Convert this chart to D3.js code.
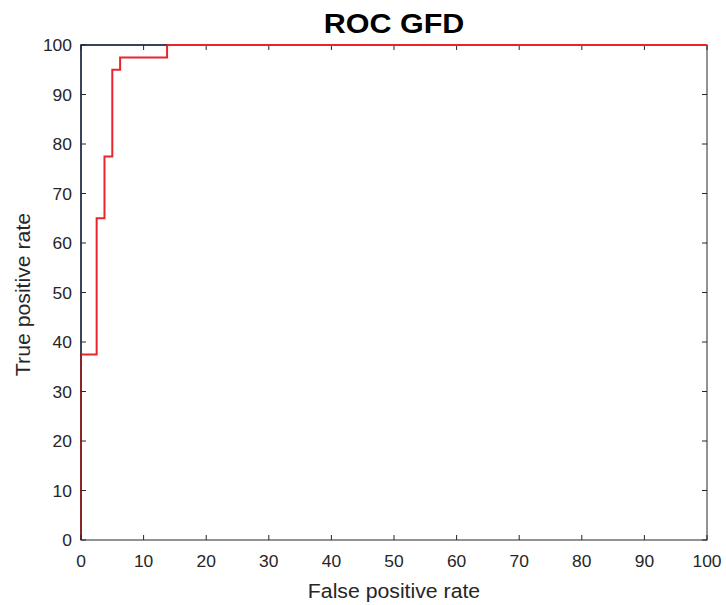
<!DOCTYPE html>
<html><head><meta charset="utf-8">
<script src="https://cdn.jsdelivr.net/npm/d3@7"></script>
<style>body{margin:0;background:#fff;font-family:"Liberation Sans",Arial,sans-serif;}</style>
</head><body><svg id="c" width="726" height="605"></svg>
<script>
const fprValues = [0, 0, 2.5, 2.5, 3.75, 3.75, 5, 5, 6.25, 6.25, 13.75, 13.75, 100];
const tprValues = [0, 37.5, 37.5, 65, 65, 77.5, 77.5, 95, 95, 97.5, 97.5, 100, 100];
const refFpr = [0, 0, 100];
const refTpr = [0, 100, 100];
const xTicks = [0,10,20,30,40,50,60,70,80,90,100];
const yTicks = [0,10,20,30,40,50,60,70,80,90,100];

const svg = d3.select("#c");
const L=81, R=707, T=45, B=540;
const SX=1.09;
const x = d3.scaleLinear().domain([0,100]).range([L,R]);
const y = d3.scaleLinear().domain([0,100]).range([B,T]);

const line = d3.line().x(d=>x(d[0])).y(d=>y(d[1]));
svg.append("path").datum(refFpr.map((v,i)=>[v,refTpr[i]]))
  .attr("d",line).attr("fill","none").attr("stroke","#1a2a6a").attr("stroke-width",1.5);
svg.append("path").datum(fprValues.map((v,i)=>[v,tprValues[i]]))
  .attr("d",line).attr("fill","none").attr("stroke","#e8242c").attr("stroke-width",2);

const g = svg.append("g").attr("stroke","#262626").attr("stroke-width",1).attr("fill","none");
g.append("rect").attr("x",L).attr("y",T).attr("width",R-L).attr("height",B-T);
const tl=5;
xTicks.forEach(t=>{
  g.append("line").attr("x1",x(t)).attr("x2",x(t)).attr("y1",B).attr("y2",B-tl);
  g.append("line").attr("x1",x(t)).attr("x2",x(t)).attr("y1",T).attr("y2",T+tl);
});
yTicks.forEach(t=>{
  g.append("line").attr("y1",y(t)).attr("y2",y(t)).attr("x1",L).attr("x2",L+tl);
  g.append("line").attr("y1",y(t)).attr("y2",y(t)).attr("x1",R).attr("x2",R-tl);
});
svg.append("line").attr("x1",x(13.75)).attr("x2",x(100)).attr("y1",y(100)).attr("y2",y(100))
  .attr("stroke","#e8242c").attr("stroke-width",2);

function label(px,py,txt,size,anchor,opts={}){
  const gg = svg.append("g").attr("transform",`translate(${px},${py})${opts.rot?" rotate(-90)":""} scale(${SX},1)`);
  gg.append("text").attr("text-anchor",anchor).attr("font-size",size)
    .attr("font-weight",opts.bold?"bold":"normal").attr("fill",opts.fill||"#262626").text(txt);
}
xTicks.forEach(t=>label(x(t),567,t,16,"middle"));
yTicks.forEach(t=>label(L-9,y(t)+6,t,16,"end"));
label((L+R)/2,32.5,"ROC GFD",28,"middle",{bold:true,fill:"#000"});
label((L+R)/2,597.5,"False positive rate",19.5,"middle");
label(29.5,(T+B)/2+2,"True positive rate",19.5,"middle",{rot:true});
</script></body></html>
